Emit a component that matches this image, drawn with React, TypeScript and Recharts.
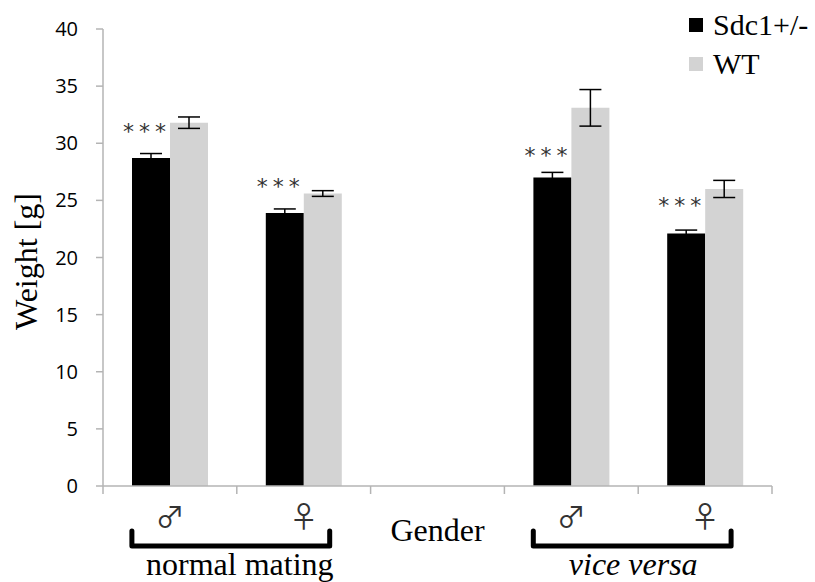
import React from "react"
import { Bar, BarChart, XAxis, YAxis, ErrorBar, LabelList } from "recharts"

// body weight by gender, Sdc1+/- vs WT, for both mating schemes
const categories = ["nm-male", "nm-female", "gender", "vv-male", "vv-female"]
const tickLabels = ["♂", "♀", "Gender", "♂", "♀"]
const sdc1 = [28.7, 23.9, null, 27.0, 22.1]
const sdc1Err = [0.4, 0.35, null, 0.45, 0.3]
const wt = [31.8, 25.6, null, 33.1, 26.0]
const wtErr = [0.5, 0.25, null, 1.6, 0.75]
const stars = ["***", "***", "", "***", "***"]
const groups = [
  { label: "normal mating", first: 0, italic: false },
  { label: "vice versa", first: 3, italic: true },
]
const yTicks = [0, 5, 10, 15, 20, 25, 30, 35, 40]

const W = 815
const H = 582
const margin = { top: 29, right: 43, left: 43, bottom: 0 }
const Y_AXIS_W = 60
const X_AXIS_H = 96
const plotW = W - margin.left - margin.right - Y_AXIS_W
const plotH = H - margin.top - margin.bottom - X_AXIS_H
const band = plotW / categories.length
const pxPerUnit = plotH / 40

const BLACK = "#000000"
const GREY = "#d3d3d3"
const AXIS = "#b4b4b4"
const SERIF = "Liberation Serif, Tinos, Times New Roman, Times, serif"

const data = categories.map((id, i) => ({
  id,
  sdc1: sdc1[i],
  sdc1Err: sdc1Err[i],
  wt: wt[i],
  wtErr: wtErr[i],
  stars: stars[i],
}))

const XTick = (props: any) => {
  const { x, y, payload } = props
  const i = payload.index
  const label = tickLabels[i]
  const left = x - band / 2
  const group = groups.find((g) => g.first === i)
  return (
    <g>
      <line x1={left} x2={left} y1={y} y2={y + 8} stroke={AXIS} strokeWidth={1.5} />
      {i === categories.length - 1 && (
        <line x1={x + band / 2} x2={x + band / 2} y1={y} y2={y + 8} stroke={AXIS} strokeWidth={1.5} />
      )}
      {label === "Gender" ? (
        <text x={x} y={y + 55} textAnchor="middle" style={{ fontFamily: SERIF, fontSize: 32 }} fill="#000">
          {label}
        </text>
      ) : (
        <text
          x={x}
          y={y + 42}
          textAnchor="middle"
          style={{ fontFamily: "Noto Sans CJK JP", fontSize: 29 }}
          fill="#333"
        >
          {label}
        </text>
      )}
      {group && (
        <g>
          <path
            d={`M ${x - 38} ${y + 45} V ${y + 60} H ${x + band + 26} V ${y + 45}`}
            fill="none"
            stroke="#000"
            strokeWidth={5}
            strokeLinejoin="round"
            strokeLinecap="round"
          />
          <text
            x={x + band / 2 + (group.italic ? -5 : 3)}
            y={y + 89}
            textAnchor="middle"
            style={{ fontFamily: SERIF, fontSize: 32, fontStyle: group.italic ? "italic" : "normal" }}
            fill="#000"
          >
            {group.label}
          </text>
        </g>
      )}
    </g>
  )
}

const StarLabel = (props: any) => {
  const { x, y, width, value, index } = props
  if (!value) return null
  const err = (sdc1Err[index] ?? 0) * pxPerUnit
  return (
    <text
      x={x + width / 2 - 4}
      y={y - err - 15}
      textAnchor="middle"
      style={{ fontFamily: "DejaVu Sans", fontSize: 22, letterSpacing: 5 }}
      fill="#333"
    >
      {value}
    </text>
  )
}

const YLabel = (props: any) => {
  const vb = props.viewBox || {}
  const cx = (vb.x ?? margin.left) - 6
  const cy = (vb.y ?? margin.top) + (vb.height ?? plotH) / 2 + 4
  return (
    <text
      x={cx}
      y={cy}
      transform={`rotate(-90, ${cx}, ${cy})`}
      textAnchor="middle"
      style={{ fontFamily: SERIF, fontSize: 32 }}
      fill="#000"
    >
      Weight [g]
    </text>
  )
}

const legendItems = [
  { name: "Sdc1+/-", color: BLACK },
  { name: "WT", color: GREY },
]

export default function App() {
  return (
    <div style={{ position: "relative", width: W, height: H }}>
      <style>{`body{margin:0}`}</style>
      <BarChart width={W} height={H} data={data} margin={margin} barGap={0} barSize={38}>
        <XAxis
          dataKey="id"
          interval={0}
          height={X_AXIS_H}
          tickLine={false}
          tickSize={0}
          tickMargin={0}
          axisLine={{ stroke: AXIS, strokeWidth: 1.5 }}
          tick={<XTick />}
        />
        <YAxis
          domain={[0, 40]}
          ticks={yTicks}
          width={Y_AXIS_W}
          tickSize={7}
          tickMargin={18}
          axisLine={{ stroke: AXIS, strokeWidth: 1.5 }}
          tickLine={{ stroke: AXIS, strokeWidth: 1.5 }}
          tick={{ fill: "#000", fontSize: 20, fontFamily: "Open Sans" }}
          label={<YLabel />}
        />
        <Bar dataKey="sdc1" fill={BLACK} isAnimationActive={false}>
          <ErrorBar dataKey="sdc1Err" width={11} stroke="#000" strokeWidth={1.5} />
          <LabelList dataKey="stars" content={<StarLabel />} />
        </Bar>
        <Bar dataKey="wt" fill={GREY} isAnimationActive={false}>
          <ErrorBar dataKey="wtErr" width={11} stroke="#000" strokeWidth={1.5} />
        </Bar>
      </BarChart>
      <div style={{ position: "absolute", left: 689, top: 5, fontFamily: SERIF, fontSize: 30, lineHeight: "39px" }}>
        {legendItems.map((it) => (
          <div key={it.name} style={{ display: "flex", alignItems: "center" }}>
            <span style={{ width: 14, height: 14, background: it.color, marginRight: 10 }} />
            <span>{it.name}</span>
          </div>
        ))}
      </div>
    </div>
  )
}
